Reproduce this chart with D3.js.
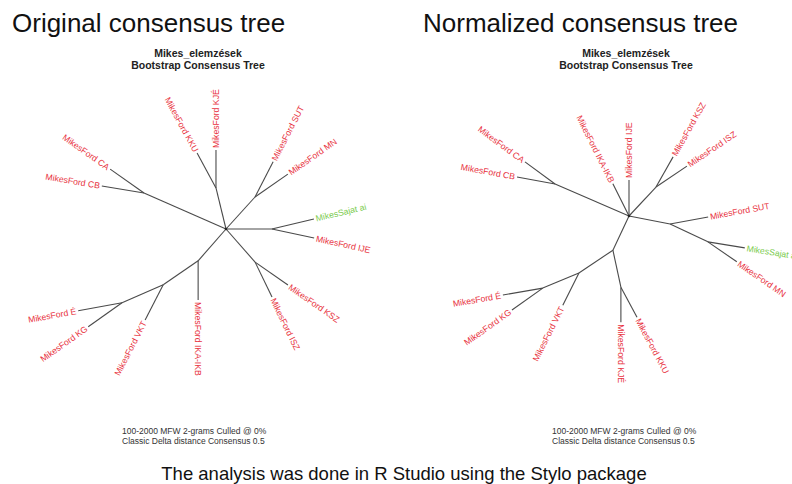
<!DOCTYPE html>
<html>
<head>
<meta charset="utf-8">
<style> body { margin: 0; background: #fff; } svg { display: block; } </style>
<script src="https://d3js.org/d3.v7.min.js"></script>
</head>
<body>
<div id="chart"></div>
<script>
// tree edges: child, parent, branch length (tree units), branch angle (deg, screen, 0 = right)
const origNode   = ["A","MikesFord CA","MikesFord CB","B","MikesFord KKU","MikesFord KJÉ","C","MikesFord SUT","MikesFord MN","D","MikesSajat ai","MikesFord IJE","H","MikesFord ISZ","MikesFord KSZ","E","MikesFord IKA-IKB","F","MikesFord VKT","G","MikesFord É","MikesFord KG"];
const origParent = ["root","A","A","root","B","B","root","C","C","root","D","D","root","H","H","root","E","E","F","F","G","G"];
const origLength = [1.99,0.92,0.95,0.94,0.88,0.84,0.96,0.88,0.89,1.02,0.96,0.96,0.98,0.86,0.89,0.94,0.87,0.94,0.88,1.00,0.99,0.92];
const origAngle  = [-156.3,-144.8,-170.5,-103.7,-118.5,-90,-47.8,-62.8,-34.9,0,-13.4,12.1,48.7,64.1,34.9,131.2,90,145.6,117.2,156.3,169.7,144.8];

const normNode   = ["A","MikesFord CA","MikesFord CB","MikesFord IKA-IKB","MikesFord IJE","C","MikesFord KSZ","MikesFord ISZ","D","MikesFord SUT","E","MikesSajat ai","MikesFord MN","F","H","MikesFord KJÉ","MikesFord KKU","G","MikesFord VKT","I","MikesFord É","MikesFord KG"];
const normParent = ["root","A","A","root","root","root","C","C","root","D","D","E","E","root","F","H","H","F","G","G","I","I"];
const normLength = [1.79,0.83,0.86,0.80,0.80,0.88,0.77,0.83,0.93,0.86,0.93,0.83,0.78,0.84,0.84,0.78,0.76,0.91,0.80,0.87,0.90,0.84];
const normAngle  = [-156.6,-143.7,-169.6,-116.6,-90,-47,-60.5,-34.1,11,-10.4,25.3,9.2,34.6,115.2,77.8,90,61.9,146.1,116.6,157.4,170.1,144.6];

const titles = ["Original consensus tree", "Normalized consensus tree"];
const subtitle = ["Mikes_elemzések", "Bootstrap Consensus Tree"];
const footnote = ["100-2000 MFW 2-grams Culled @ 0%", "Classic Delta distance Consensus 0.5"];
const caption = "The analysis was done in R Studio using the Stylo package";
const greenTips = ["MikesSajat ai"];

const width = 792, height = 484;
const font = "'Liberation Sans', Arial, sans-serif";

const svg = d3.select("#chart").append("svg")
    .attr("width", width).attr("height", height);

// branch length -> pixels
const unit = d3.scaleLinear().domain([0, 1]).range([0, 45]);

const panels = [
    {node: origNode, parent: origParent, len: origLength, ang: origAngle,
     cx: 226, cy: 229, titleX: 12, subX: 198, footX: 122},
    {node: normNode, parent: normParent, len: normLength, ang: normAngle,
     cx: 629, cy: 216, titleX: 423, subX: 626, footX: 552}
];

panels.forEach((p, i) => {
    const rows = [{id: "root", parent: null, len: 0, ang: 0}]
        .concat(p.node.map((d, j) => ({id: d, parent: p.parent[j], len: p.len[j], ang: p.ang[j]})));
    const root = d3.stratify().id(d => d.id).parentId(d => d.parent)(rows);

    root.each(n => {
        if (!n.parent) { n.x = p.cx; n.y = p.cy; return; }
        const a = n.data.ang * Math.PI / 180;
        n.x = n.parent.x + unit(n.data.len) * Math.cos(a);
        n.y = n.parent.y + unit(n.data.len) * Math.sin(a);
    });

    const g = svg.append("g");

    g.selectAll("line")
        .data(root.links())
        .join("line")
        .attr("x1", d => d.source.x).attr("y1", d => d.source.y)
        .attr("x2", d => d.target.x).attr("y2", d => d.target.y)
        .attr("stroke", "#4a4a4a")
        .attr("stroke-width", 1.1);

    g.append("circle")
        .attr("cx", root.x).attr("cy", root.y).attr("r", 1.3)
        .attr("fill", "#222");

    g.selectAll("text.tip")
        .data(root.leaves())
        .join("text")
        .attr("class", "tip")
        .attr("transform", d => {
            const a = d.data.ang;
            const flip = Math.abs(a) > 90;
            return `translate(${d.x},${d.y}) rotate(${flip ? a + 180 : a})`;
        })
        .attr("x", d => Math.abs(d.data.ang) > 90 ? -2 : 2)
        .attr("dy", "0.35em")
        .attr("text-anchor", d => Math.abs(d.data.ang) > 90 ? "end" : "start")
        .attr("font-family", font)
        .attr("font-size", 8.7)
        .attr("fill", d => greenTips.includes(d.id) ? "#7acb4c" : "#e8323e")
        .text(d => d.id);

    svg.append("text")
        .attr("x", p.titleX).attr("y", 32)
        .attr("font-family", font).attr("font-size", 26)
        .attr("fill", "#111")
        .text(titles[i]);

    svg.selectAll(null)
        .data(subtitle)
        .join("text")
        .attr("x", p.subX).attr("y", (d, k) => 57 + k * 12)
        .attr("text-anchor", "middle")
        .attr("font-family", font).attr("font-size", 10.5).attr("font-weight", "bold")
        .attr("fill", "#222")
        .text(d => d);

    svg.selectAll(null)
        .data(footnote)
        .join("text")
        .attr("x", p.footX).attr("y", (d, k) => 434 + k * 9.5)
        .attr("font-family", font).attr("font-size", 8.5)
        .attr("fill", "#333")
        .text(d => d);
});

svg.append("text")
    .attr("x", 404).attr("y", 480)
    .attr("text-anchor", "middle")
    .attr("font-family", font).attr("font-size", 18.5)
    .attr("fill", "#111")
    .text(caption);
</script>
</body>
</html>
